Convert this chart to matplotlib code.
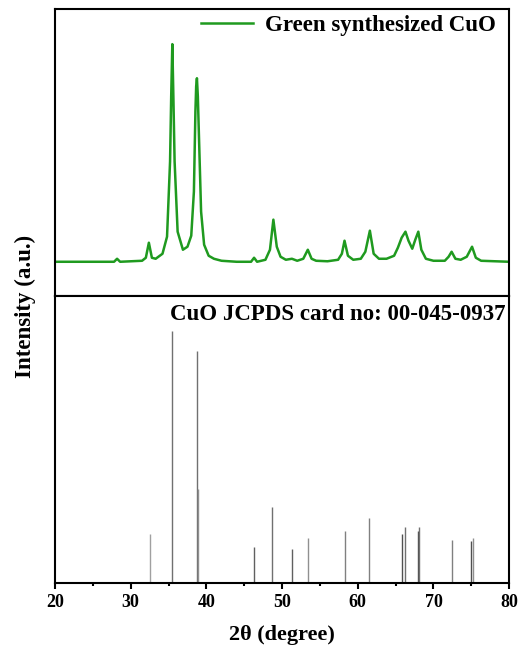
import matplotlib.pyplot as plt
from matplotlib.ticker import MultipleLocator

plt.rcParams['font.family'] = ['Liberation Serif', 'DejaVu Serif']
plt.rcParams['font.weight'] = 'bold'

two_theta = [20, 24, 27.8, 28.2, 28.6, 31.5, 32.0, 32.4, 32.8, 33.3, 34.2, 34.8,
             35.2, 35.35, 35.5, 35.65, 35.8, 36.2, 36.9, 37.5, 38.0, 38.35, 38.55,
             38.65, 38.75, 38.87, 39.0, 39.3, 39.7, 40.3, 41.0, 42.0, 44.0, 45.9,
             46.3, 46.7, 47.8, 48.4, 48.85, 49.3, 49.8, 50.5, 51.3, 52.0, 52.8,
             53.4, 53.9, 54.5, 56.0, 57.4, 57.9, 58.25, 58.7, 59.4, 60.4, 61.0,
             61.6, 62.1, 62.8, 63.8, 64.8, 65.3, 65.8, 66.3, 66.7, 67.2, 67.6,
             68.0, 68.4, 69.0, 70.0, 71.5, 72.0, 72.4, 72.9, 73.6, 74.4, 75.1,
             75.6, 76.3, 80]
intensity = [0, 0, 0, 3, 0, 1, 4, 19, 4, 3, 8, 25,
             100, 165, 217, 160, 100, 30, 12, 15, 26, 70, 150,
             175, 183, 165, 130, 50, 17, 6, 3, 1, 0, 0,
             4, 0, 2, 12, 42, 15, 5, 2, 3, 1, 3,
             12, 3, 1, 0.5, 2, 8, 21, 6, 2, 3, 10,
             31, 8, 3, 3, 6, 14, 24, 30, 21, 13, 22,
             30, 12, 3, 1, 1, 5, 10, 3, 2, 5, 15,
             4, 1, 0]

# JCPDS 00-045-0937 reference lines
ref_pos = [32.5, 35.5, 38.7, 38.95, 46.3, 48.7, 51.35, 53.45, 58.3, 61.55,
           65.8, 66.25, 67.95, 68.1, 72.45, 75.0, 75.25]
ref_int = [49, 252, 232, 94, 36, 76, 34, 45, 52, 65,
           49, 56, 52, 56, 43, 42, 45]
ref_gray = ['#a0a0a0', '#707070', '#707070', '#909090', '#606060', '#707070',
            '#606060', '#909090', '#808080', '#808080', '#505050', '#707070',
            '#505050', '#707070', '#808080', '#505050', '#909090']

fig = plt.figure(figsize=(5.19, 6.46), dpi=100)
ax1 = fig.add_axes([0.106, 0.542, 0.875, 0.444])
ax2 = fig.add_axes([0.106, 0.0975, 0.875, 0.4445])

ax1.plot(two_theta, intensity, color='#1f9a1f', lw=1.8, label='Green synthesized CuO')
ax1.set_xlim(20, 80)
ax1.set_ylim(-34, 252)
ax1.set_xticks([])
ax1.set_yticks([])
ax1.legend(loc='upper right', bbox_to_anchor=(0.978, 0.99), frameon=False,
           handlelength=2.3, handletextpad=0.5, borderaxespad=0.0, borderpad=0.15,
           prop={'family': 'Liberation Serif', 'weight': 'bold', 'size': 16.5})

ax2.vlines(ref_pos, 0, ref_int, colors=ref_gray, lw=1.0)
ax2.set_xlim(20, 80)
ax2.set_ylim(0, 287)
ax2.set_yticks([])
ax2.xaxis.set_major_locator(MultipleLocator(10))
ax2.xaxis.set_minor_locator(MultipleLocator(5))
ax2.tick_params(axis='x', which='major', direction='out', length=4.5, width=1.5, labelsize=13)
ax2.tick_params(axis='x', which='minor', direction='out', length=2.5, width=1.5)
ax2.text(0.993, 0.97, 'CuO JCPDS card no: 00-045-0937', transform=ax2.transAxes,
         ha='right', va='top', fontsize=16.5, fontweight='bold')
ax2.set_xlabel('2θ (degree)', fontsize=16, fontweight='bold', labelpad=10)

for ax in (ax1, ax2):
    for side in ax.spines:
        ax.spines[side].set_linewidth(1.5)

fig.text(0.048, 0.525, 'Intensity (a.u.)', rotation=90, ha='center', va='center',
         fontsize=16.5, fontweight='bold')

fig.savefig('out.png', dpi=100)
